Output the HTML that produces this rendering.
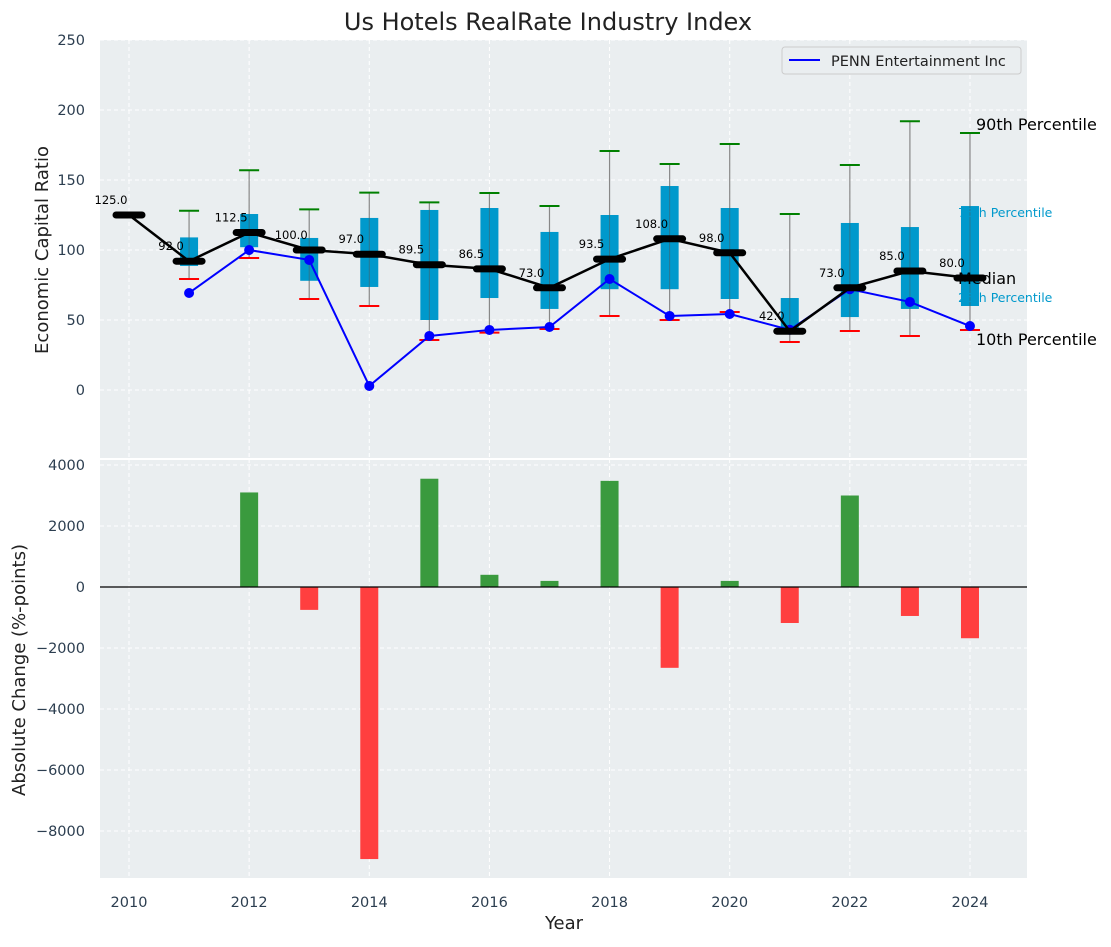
<!DOCTYPE html>
<html><head><meta charset="utf-8"><style>
body{margin:0;background:#fff;font-family:"Liberation Sans","DejaVu Sans",sans-serif}
svg text{font-family:"DejaVu Sans","Liberation Sans",sans-serif}
</style></head><body>
<svg id="c" width="1111" height="942" viewBox="0 0 1111 942" xmlns="http://www.w3.org/2000/svg"></svg>
<script>
const years=[2010,2011,2012,2013,2014,2015,2016,2017,2018,2019,2020,2021,2022,2023,2024];
const medians=[125,92,112.5,100,97,89.5,86.5,73,93.5,108,98,42,73,85,80];
const p90=[null,128,157,129,141,134,140.7,131.4,170.7,161.4,175.7,125.7,160.7,192,183.6];
const p75=[null,109,125.7,108.6,122.9,128.6,130,112.9,125,145.7,130,65.7,119.3,116.4,131.4];
const p25=[null,88.6,102,78,73.6,50,65.7,57.9,72,72,65,42,52.1,57.9,60];
const p10=[null,79.3,94.3,65,60,35.7,41,43.6,52.9,50,55.7,34.3,42.1,38.6,42.9];
const penn=[null,69.3,100,92.9,2.9,38.6,42.9,45,79.3,52.9,54.3,43,72,62.9,45.7];
const changes=[0,0,3100,-750,-8920,3550,400,200,3480,-2650,200,-1180,3000,-950,-1680];
const topTicks=[0,50,100,150,200,250];
const botTicks=[-8000,-6000,-4000,-2000,0,2000,4000];
const xTicks=[2010,2012,2014,2016,2018,2020,2022,2024];

const NS="http://www.w3.org/2000/svg";
const svg=document.getElementById('c');
function el(tag,attrs,parent,txt){const e=document.createElementNS(NS,tag);for(const k in attrs)e.setAttribute(k,attrs[k]);if(txt!==undefined)e.textContent=txt;(parent||svg).appendChild(e);return e;}
const L=100,R=1027,T1=40,B1=458,T2=459,B2=878;
const X=y=>129+(y-2010)*60.07;
const Y1=v=>390-v*1.4;
const Y2=v=>587-v*0.0305;
const tc='#2c3e50';

let p1=el('rect',{x:L,y:T1,width:R-L,height:B1-T1,fill:'#eaeef0'});

let p2=el('rect',{x:L,y:T2+1,width:R-L,height:B2-T2-1,fill:'#eaeef0'});


xTicks.forEach(t=>{
  [[T1,B1],[T2,B2]].forEach(([a,b])=>{let g=el('line',{x1:X(t),x2:X(t),y1:a,y2:b,stroke:'#fff','stroke-dasharray':'4,3','stroke-width':1});
  });
  let tx=el('text',{x:X(t),y:907,'text-anchor':'middle','font-size':14.5,fill:tc},svg,String(t));
  
});
topTicks.forEach(t=>{
  let g=el('line',{x1:L,x2:R,y1:Y1(t),y2:Y1(t),stroke:'#fff','stroke-dasharray':'4,3'});
  
  let tx=el('text',{x:85,y:Y1(t)+5,'text-anchor':'end','font-size':14.5,fill:tc},svg,String(t));
  
});
botTicks.forEach(t=>{
  let g=el('line',{x1:L,x2:R,y1:Y2(t),y2:Y2(t),stroke:'#fff','stroke-dasharray':'4,3'});
  
  let tx=el('text',{x:85,y:Y2(t)+5,'text-anchor':'end','font-size':14.5,fill:tc},svg,String(t).replace('-','\u2212'));
  
});

years.forEach((yr,i)=>{
  const x=X(yr);
  if(p90[i]!==null){
    let w=el('line',{x1:x,x2:x,y1:Y1(p90[i]),y2:Y1(p10[i]),stroke:'#888','stroke-width':1.2});
    
    let b=el('rect',{x:x-9,y:Y1(p75[i]),width:18,height:Y1(p25[i])-Y1(p75[i]),fill:'#0099cc'});
    
    let w2=el('line',{x1:x,x2:x,y1:Y1(p75[i]),y2:Y1(p25[i]),stroke:'#555','stroke-width':1,opacity:0.5});
    
    let c1=el('line',{x1:x-10,x2:x+10,y1:Y1(p90[i]),y2:Y1(p90[i]),stroke:'green','stroke-width':2});
    
    let c2=el('line',{x1:x-10,x2:x+10,y1:Y1(p10[i]),y2:Y1(p10[i]),stroke:'red','stroke-width':2});
    
  }
});
let pts=years.map((y,i)=>penn[i]===null?null:[X(y),Y1(penn[i])]).filter(p=>p);
let pl=el('polyline',{points:pts.map(p=>p.join(',')).join(' '),fill:'none',stroke:'blue','stroke-width':2});

pts.forEach(p=>{let c=el('circle',{cx:p[0],cy:p[1],r:5,fill:'blue'});
});
let ml=el('polyline',{points:years.map((y,i)=>X(y)+','+Y1(medians[i])).join(' '),fill:'none',stroke:'#000','stroke-width':2.5});

years.forEach((y,i)=>{
  let m=el('line',{x1:X(y)-13,x2:X(y)+13,y1:Y1(medians[i]),y2:Y1(medians[i]),stroke:'#000','stroke-width':7,'stroke-linecap':'round'});
  
  let t=el('text',{x:X(y)-18,y:Y1(medians[i])-11,'text-anchor':'middle','font-size':11.5,fill:'#000'},svg,medians[i].toFixed(1));
  
});
[['90th Percentile',976,130,16,'#000'],['Median',958,284,16,'#000'],['75th Percentile',958,217,12.5,'#0099cc'],['25th Percentile',958,302,12.5,'#0099cc'],['10th Percentile',976,345,16,'#000']].forEach(a=>{
  let t=el('text',{x:a[1],y:a[2],'font-size':a[3],fill:a[4]},svg,a[0]);
  
});
let lg=el('g',{});

el('rect',{x:782,y:47,width:239,height:27,rx:3,fill:'#eaeef0',stroke:'#ccc'},lg);
el('line',{x1:789,x2:820,y1:60,y2:60,stroke:'blue','stroke-width':2},lg);
el('text',{x:831,y:66,'font-size':14.5,fill:'#222'},lg,'PENN Entertainment Inc');

years.forEach((y,i)=>{
  const v=changes[i];
  let b=el('rect',{x:X(y)-9,y:Math.min(Y2(v),Y2(0)),width:18,height:Math.abs(Y2(v)-Y2(0)),fill:v>=0?'#3a9a3e':'#ff3f3f'});
  
});
let zl=el('line',{x1:L,x2:R,y1:Y2(0),y2:Y2(0),stroke:'#000','stroke-width':1.2});


let ti=el('text',{x:548,y:30,'text-anchor':'middle','font-size':24,fill:'#222'},svg,'Us Hotels RealRate Industry Index');

let xl=el('text',{x:564,y:929,'text-anchor':'middle','font-size':18,fill:'#222'},svg,'Year');

let y1=el('text',{x:0,y:0,'text-anchor':'middle','font-size':18,fill:'#222',transform:'translate(48,250) rotate(-90)'},svg,'Economic Capital Ratio');

let y2=el('text',{x:0,y:0,'text-anchor':'middle','font-size':18,fill:'#222',transform:'translate(25,670) rotate(-90)'},svg,'Absolute Change (%-points)');

</script>
</body></html>
